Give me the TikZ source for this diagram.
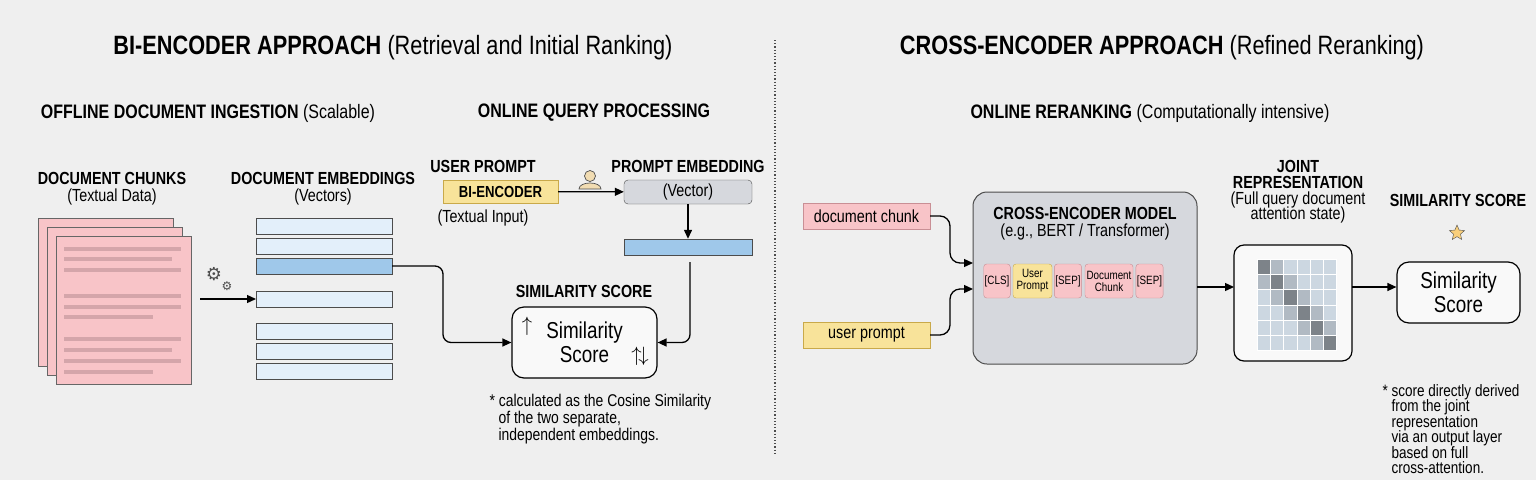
\documentclass[tikz,border=0pt]{standalone}
\usepackage{fontspec}
\setmainfont{Liberation Sans}[FakeStretch=0.82]
\newfontfamily\symf{DejaVu Sans}
\usetikzlibrary{arrows.meta,shapes.geometric}
\definecolor{bg}{HTML}{EFEFEF}
\definecolor{pinkf}{HTML}{F8C4C8}
\definecolor{pinkd}{HTML}{C98F95}
\definecolor{yel}{HTML}{F8E39A}
\definecolor{yeld}{HTML}{C9A94A}
\definecolor{lblue}{HTML}{E3EFFA}
\definecolor{mblue}{HTML}{9FC8EA}
\definecolor{grayb}{HTML}{D6D8DD}
\begin{document}
\begin{tikzpicture}[x=1pt,y=-1pt,
  h1/.style={font=\fontsize{26.5}{28}\selectfont},
  h2/.style={font=\fontsize{19.5}{21}\selectfont},
  h3/.style={font=\fontsize{17.5}{19}\selectfont},
  lab/.style={font=\fontsize{17.5}{19}\selectfont},
  arr/.style={-{Triangle[length=9pt,width=8pt]},line width=1.3pt},
  bar/.style={draw=black!70,fill=lblue,line width=0.6pt},
  tok/.style={draw=pinkd,fill=pinkf,rounded corners=3pt,font=\fontsize{12}{12}\selectfont,align=center,inner sep=1pt,minimum height=34pt},
  note/.style={font=\fontsize{17}{17}\selectfont,align=left,anchor=north west}]
\useasboundingbox[fill=bg] (0,0) rectangle (1536,480);
\draw[dotted,line width=1.2pt,black!70] (775,40) -- (775,455);
\node[h1] (t1) at (393,48) {\textbf{BI-ENCODER APPROACH} (Retrieval and Initial Ranking)};
\node[h1] (t2) at (1162,48) {\textbf{CROSS-ENCODER APPROACH} (Refined Reranking)};
\node[h2] (s1) at (208,113) {\textbf{OFFLINE DOCUMENT INGESTION} (Scalable)};
\node[h2] (s2) at (594,113) {\textbf{ONLINE QUERY PROCESSING}};
\node[h2] (s3) at (1150,113) {\textbf{ONLINE RERANKING} (Computationally intensive)};
% doc chunks
\node[h3,align=center] (dcl) at (112,189) {\textbf{DOCUMENT CHUNKS}\\[-2pt]{\fontsize{17.5}{19}\selectfont (Textual Data)}};
\foreach \d in {0,9,18}{\draw[fill=pinkf,draw=black!60,line width=0.6pt] (38+\d,218+\d) rectangle (173+\d,366+\d);}
\foreach \y/\w in {249/181,259/172,270/181,296/181,307/181,317/153,339/181,350/172,361/181,372/153}{\fill[pinkd!80] (64,\y-2) rectangle (\w,\y+2);}
\node[font=\symf\fontsize{18}{18}\selectfont,text=black!70] (gear) at (214,274) {⚙};
\node[font=\symf\fontsize{12}{12}\selectfont,text=black!70] (gear2) at (227,286) {⚙};
% embeddings
\node[h3,align=center] (del) at (323,189) {\textbf{DOCUMENT EMBEDDINGS}\\[-2pt]{\fontsize{17.5}{19}\selectfont (Vectors)}};
\foreach \n/\y in {1/218,2/238,4/291,5/323,6/343,7/363}{\draw[bar] (256,\y) rectangle (392,\y+16); \coordinate (b\n) at (256,\y+8);}
\draw[bar,fill=mblue] (256,258) rectangle (392,274);
\coordinate (b3) at (392,266);
\coordinate (e0) at (200,299);
\draw[arr] (e0) -- (b4);
% user prompt
\node[h3] (upl) at (483,166) {\textbf{USER PROMPT}};
\node[draw=yeld,fill=yel,minimum width=115pt,minimum height=23pt,font=\fontsize{16}{18}\selectfont\bfseries,inner sep=0] (bi) at (500.5,191.5) {BI-ENCODER};
\node[lab] (ti) at (483,218) {(Textual Input)};
\fill[fill=yel!70!brown!60,draw=black!70,line width=0.7pt] (590,176) circle (5.5);
\draw[fill=yel!70!brown!60,draw=black!70,line width=0.7pt] (579,189) .. controls (579,181) and (601,181) .. (601,189) -- cycle;
\node[h3] (pel) at (688,166) {\textbf{PROMPT EMBEDDING}};
\node[draw=black!70,fill=grayb,rounded corners=4pt,minimum width=128pt,minimum height=24pt,lab,inner sep=0] (vec) at (688,192) {(Vector)};
\draw[arr] (bi) -- (vec);
\node[draw=black!70,fill=mblue,minimum width=128pt,minimum height=16pt,inner sep=0] (pb) at (688,247) {};
\draw[arr] (vec) -- (pb);
\node[h3] (ssl) at (584,291) {\textbf{SIMILARITY SCORE}};
\node[draw,rounded corners=12pt,line width=1.2pt,fill=white!60!bg,minimum width=145pt,minimum height=71pt,align=center,font=\fontsize{23}{24}\selectfont] (ss) at (584.5,342.5) {Similarity\\Score};
\node[font=\fontsize{22}{22}\selectfont] (up) at (527,326) {$\uparrow$};
\node[font=\fontsize{22}{22}\selectfont] (ud) at (640,356) {$\uparrow\!\downarrow$};
\draw[arr,rounded corners=8pt] (b3) -- (443,266) |- (ss.west);
\draw[arr,rounded corners=8pt] (pb.south) ++(2,7) coordinate (pbs) (pbs) |- (ss.east);
\node[note] (n1) at (486,391) {* calculated as the Cosine Similarity\\\hspace*{9pt}of the two separate,\\\hspace*{9pt}independent embeddings.};
% right
\node[draw=pinkd,fill=pinkf,minimum width=127pt,minimum height=26pt,lab,inner sep=0] (dc) at (866.5,216) {document chunk};
\node[draw=yeld,fill=yel,minimum width=127pt,minimum height=26pt,lab,inner sep=0] (up2) at (866.5,335) {user prompt};
\node[draw=black!70,fill=grayb,rounded corners=14pt,line width=1pt,minimum width=224pt,minimum height=172pt] (ce) at (1085,278) {};
\node[h3,align=center] (cel) at (1085,224) {\textbf{CROSS-ENCODER MODEL}\\[-2pt]{\fontsize{17.5}{19}\selectfont(e.g., BERT / Transformer)}};
\node[tok,minimum width=26pt] (k1) at (997,281) {[CLS]};
\node[tok,minimum width=39pt,fill=yel,draw=yeld] (k2) at (1032.5,281) {User\\Prompt};
\node[tok,minimum width=26pt] (k3) at (1068,281) {[SEP]};
\node[tok,minimum width=48pt] (k4) at (1109,281) {Document\\Chunk};
\node[tok,minimum width=27pt] (k5) at (1149.5,281) {[SEP]};
\coordinate (ci1) at (973,263);
\coordinate (ci2) at (973,289);
\draw[arr,rounded corners=10pt] (dc.east) -- (950,216) -- (950,263) -- (ci1);
\draw[arr,rounded corners=10pt] (up2.east) -- (950,335) -- (950,289) -- (ci2);
\node[h3,align=center] (jl) at (1298,192) {\textbf{JOINT}\\[-3pt]\textbf{REPRESENTATION}\\[-3pt]{\fontsize{17.5}{19}\selectfont(Full query document}\\[-4pt]{\fontsize{17.5}{19}\selectfont attention state)}};
\node[draw,rounded corners=10pt,line width=1.2pt,fill=white!60!bg,minimum width=118pt,minimum height=116pt] (jr) at (1293,303) {};
\foreach \i in {0,...,5}{\foreach \j in {0,...,5}{
  \pgfmathsetmacro{\s}{ifthenelse(\i==\j,45,ifthenelse(abs(\i-\j)==1,22,10))}
  \fill[black!\s!lblue] (1257+\i*13.3,259+\j*15.3) rectangle ++(13.3,15.3);}}
\foreach \i in {0,...,6}{\draw[white,line width=0.7pt] (1257+\i*13.3,259) -- ++(0,92); \draw[white,line width=0.7pt] (1257,259+\i*15.3) -- ++(80,0);}
\coordinate (ja) at (1197,287);
\coordinate (jb) at (1234,287);
\draw[arr] (ja) -- (jb);
\node[h3] (ssl2) at (1458,200) {\textbf{SIMILARITY SCORE}};
\node[star,star points=5,star point ratio=2.2,fill=yel!80!orange,draw=black!70,minimum size=16pt,inner sep=0] (st) at (1457,233) {};
\node[draw,rounded corners=12pt,line width=1.2pt,fill=white!60!bg,minimum width=123pt,minimum height=61pt,align=center,font=\fontsize{23}{24}\selectfont] (ss2) at (1458.5,292.5) {Similarity\\Score};
\coordinate (jc) at (1352,287);
\draw[arr] (jc) -- (ss2.west |- jc);
\node[note,font=\fontsize{16.5}{15.5}\selectfont] (n2) at (1379,381) {* score directly derived\\\hspace*{9pt}from the joint\\\hspace*{9pt}representation\\\hspace*{9pt}via an output layer\\\hspace*{9pt}based on full\\\hspace*{9pt}cross-attention.};
\end{tikzpicture}
\end{document}
